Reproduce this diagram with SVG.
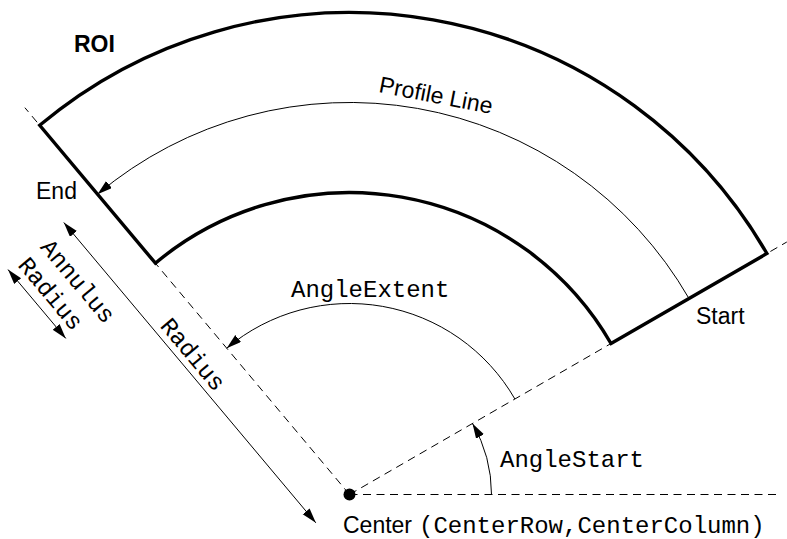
<svg xmlns="http://www.w3.org/2000/svg" width="787" height="539" viewBox="0 0 787 539">
<style>
.sans{font-family:"Liberation Sans",Arial,sans-serif;font-size:23px;fill:#000}
.mono{font-family:"Liberation Mono","Courier New",monospace;font-size:24px;fill:#000}
.thin{fill:none;stroke:#000;stroke-width:1}
.dash{fill:none;stroke:#000;stroke-width:1;stroke-dasharray:8 5.5}
.bold{fill:none;stroke:#000;stroke-width:3.4;stroke-linejoin:miter}
</style>
<defs>
<marker id="arr" markerUnits="userSpaceOnUse" markerWidth="16" markerHeight="10" refX="15" refY="4.5" orient="auto-start-reverse" viewBox="0 0 16 10">
<path d="M0,0 L15,4.5 L0,9 Z" fill="#000"/>
</marker>
</defs>
<rect width="787" height="539" fill="#fff"/>
<g id="guides">
<line class="dash" x1="349.5" y1="494.5" x2="777" y2="494.5"/>
<line class="dash" x1="349.5" y1="494.5" x2="786.8" y2="242"/>
<line class="dash" x1="349.5" y1="494.5" x2="24.9" y2="107.7"/>
</g>
<g id="roi">
<path class="bold" d="M611,343.5 L766.9,253.5 A482,482 0 0 0 39.7,125.3 L155.4,263.2 A302,302 0 0 1 611,343.5 Z"/>
<text class="sans" x="74" y="52" font-weight="bold">ROI</text>
</g>
<g id="connectors">
<path id="profile-line" class="thin" d="M689,298.5 A392,392 0 0 0 97.5,194.2" marker-end="url(#arr)"/>
<path id="angle-extent-arc" class="thin" d="M514.9,399 A191,191 0 0 0 226.7,348.2" marker-end="url(#arr)"/>
<path id="angle-start-arc" class="thin" d="M491.5,494.5 A142,142 0 0 0 472.5,423.5" marker-end="url(#arr)"/>
<line id="radius-dim" class="thin" x1="315.8" y1="522.8" x2="63.8" y2="222.5" marker-start="url(#arr)" marker-end="url(#arr)"/>
<line id="annulus-dim" class="thin" x1="65.8" y1="338.4" x2="8" y2="269.6" marker-start="url(#arr)" marker-end="url(#arr)"/>
</g>
<g id="center">
<circle cx="349.5" cy="494.5" r="6" fill="#000"/>
<text class="sans" x="343" y="533">Center</text>
<text class="mono" x="419" y="533">(CenterRow,CenterColumn)</text>
</g>
<g id="labels">
<text class="sans" text-anchor="middle" transform="translate(434.5,103) rotate(11)">Profile Line</text>
<text class="sans" x="36" y="199">End</text>
<text class="sans" x="696" y="324">Start</text>
<text class="mono" x="291" y="297">AngleExtent</text>
<text class="mono" x="500" y="467">AngleStart</text>
<text class="mono" text-anchor="middle" transform="translate(187,359.4) rotate(50)">Radius</text>
<text class="mono" text-anchor="middle" transform="translate(72,286.1) rotate(50)">Annulus</text>
<text class="mono" text-anchor="middle" transform="translate(44.8,298.6) rotate(50)">Radius</text>
</g>
</svg>
